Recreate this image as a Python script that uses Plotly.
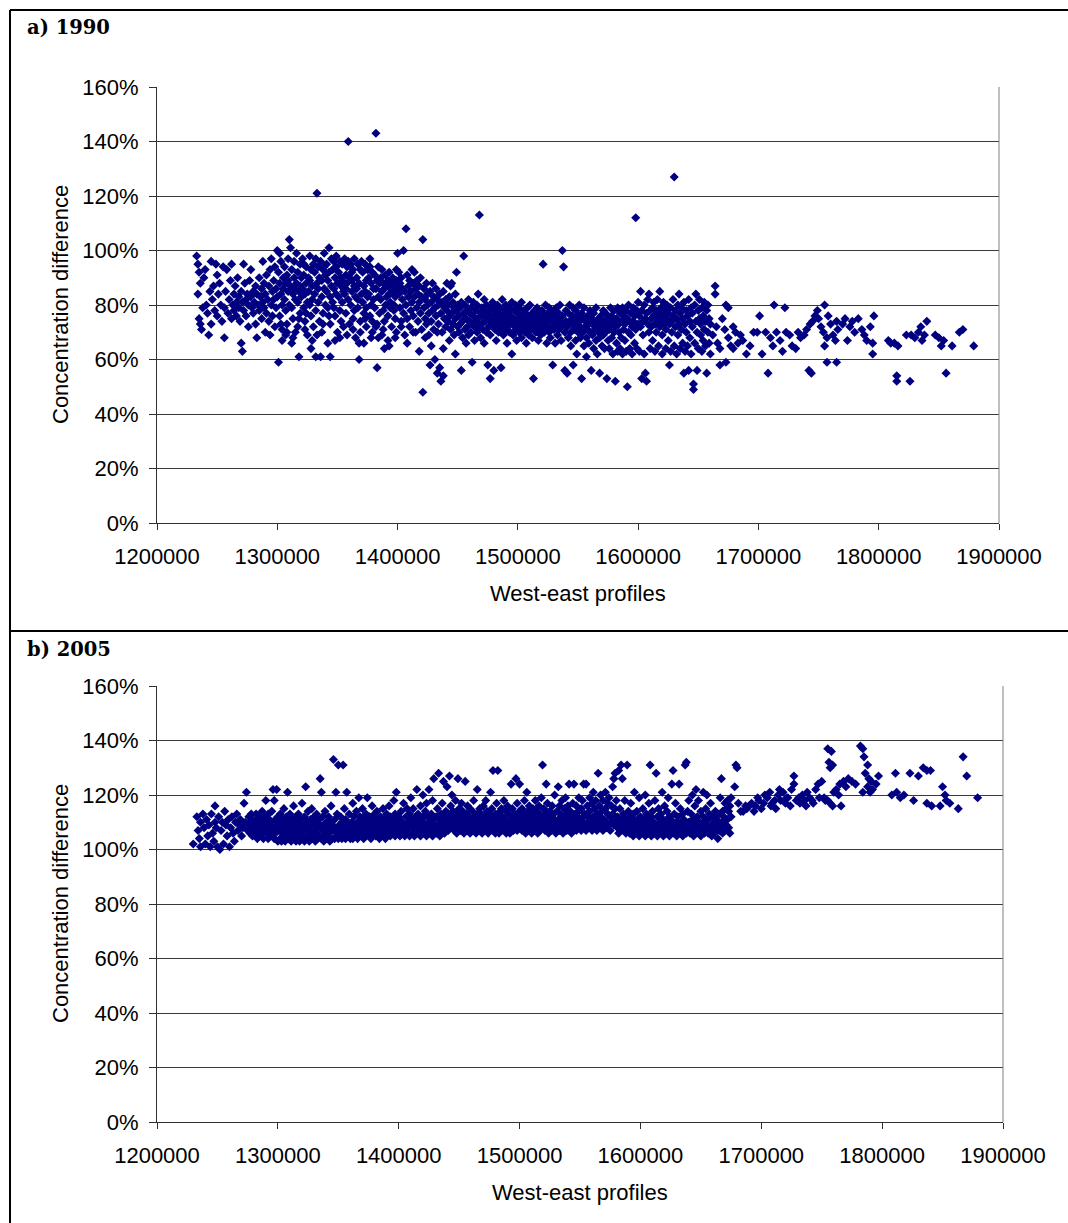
import plotly.graph_objects as go

# Concentration difference along west-east profiles.
# Each entry: (profile easting in km, concentration difference in %)

# ---------------- 1990 ----------------
a_west = [
    (1233, 98), (1234, 84), (1234, 95), (1235, 92), (1235, 75), (1236, 73), (1236, 88), (1237, 71),
    (1238, 79), (1239, 90), (1240, 93), (1241, 80), (1242, 77), (1243, 69), (1244, 85), (1245, 96),
    (1245, 73), (1246, 82), (1247, 87), (1248, 78), (1249, 95), (1250, 91), (1250, 76), (1251, 84),
    (1252, 88), (1253, 80), (1254, 74), (1255, 94), (1256, 79), (1256, 68), (1257, 85), (1258, 93),
    (1259, 77), (1260, 82), (1261, 89), (1262, 75), (1262, 95),
    (1263, 80), (1264, 84), (1264, 78), (1265, 87), (1266, 81), (1266, 76), (1267, 90), (1268, 83),
    (1268, 79), (1269, 74), (1270, 66), (1270, 85), (1271, 63), (1271, 81), (1272, 95), (1272, 78),
    (1273, 88), (1274, 82), (1274, 76), (1275, 84), (1276, 80), (1276, 72), (1277, 89), (1278, 83),
    (1278, 93), (1279, 79), (1280, 85), (1280, 77), (1281, 81), (1282, 87), (1282, 73), (1283, 68),
    (1283, 84), (1284, 80), (1285, 90), (1285, 78), (1286, 83), (1287, 86), (1287, 75), (1288, 96),
    (1288, 81), (1289, 88), (1289, 79), (1290, 70), (1290, 84), (1291, 91), (1291, 77), (1292, 82),
    (1293, 87), (1293, 74), (1294, 69), (1294, 93), (1295, 80), (1295, 97), (1296, 85), (1296, 76),
    (1297, 89), (1297, 82), (1298, 72), (1298, 94), (1299, 86), (1299, 79), (1300, 100), (1300, 83),
]

a_core = [
    (1301, 92), (1301, 59), (1302, 88), (1302, 76), (1303, 96), (1303, 84), (1304, 80), (1304, 71), (1305, 90), (1305, 86), (1302, 99), (1304, 67),
    (1306, 94), (1306, 82), (1307, 88), (1307, 78), (1308, 91), (1308, 73), (1309, 85), (1309, 97), (1310, 104), (1310, 80), (1307, 69), (1309, 89),
    (1311, 101), (1311, 87), (1312, 93), (1312, 79), (1313, 84), (1313, 75), (1314, 90), (1314, 96), (1315, 82), (1315, 70), (1312, 66), (1314, 86),
    (1316, 99), (1316, 88), (1317, 92), (1317, 81), (1318, 61), (1318, 85), (1319, 95), (1319, 77), (1320, 90), (1320, 83), (1317, 72), (1319, 87),
    (1321, 97), (1321, 86), (1322, 91), (1322, 79), (1323, 84), (1323, 74), (1324, 94), (1324, 88), (1325, 81), (1325, 69), (1322, 95), (1324, 77),
    (1326, 90), (1326, 85), (1327, 98), (1327, 80), (1328, 93), (1328, 76), (1329, 87), (1329, 82), (1330, 95), (1330, 72), (1327, 89), (1329, 67),
    (1331, 92), (1331, 84), (1332, 97), (1332, 78), (1333, 88), (1333, 121), (1334, 94), (1334, 81), (1335, 90), (1335, 74), (1332, 61), (1334, 86),
    (1336, 96), (1336, 61), (1337, 89), (1337, 83), (1338, 93), (1338, 77), (1339, 86), (1339, 99), (1340, 91), (1340, 80), (1337, 70), (1339, 94),
    (1341, 95), (1341, 85), (1342, 89), (1342, 79), (1343, 101), (1343, 92), (1344, 83), (1344, 73), (1345, 97), (1345, 87), (1342, 66), (1344, 61),
    (1346, 93), (1346, 81), (1347, 96), (1347, 86), (1348, 90), (1348, 76), (1349, 84), (1349, 94), (1350, 88), (1350, 70), (1347, 79), (1349, 98),
    (1351, 92), (1351, 83), (1352, 96), (1352, 78), (1353, 87), (1353, 90), (1354, 81), (1354, 95), (1355, 85), (1355, 72), (1352, 68), (1354, 89),
    (1356, 97), (1356, 84), (1357, 91), (1357, 77), (1358, 88), (1358, 94), (1359, 140), (1359, 82), (1360, 90), (1360, 73), (1357, 86), (1359, 96),
    (1361, 95), (1361, 80), (1362, 89), (1362, 85), (1363, 93), (1363, 75), (1364, 87), (1364, 97), (1365, 83), (1365, 68), (1362, 92), (1364, 78),
    (1366, 90), (1366, 86), (1367, 95), (1367, 79), (1368, 60), (1368, 88), (1369, 93), (1369, 74), (1370, 84), (1370, 96), (1367, 82), (1369, 70),
    (1371, 92), (1371, 81), (1372, 87), (1372, 77), (1373, 95), (1373, 85), (1374, 89), (1374, 72), (1375, 83), (1375, 93), (1372, 66), (1374, 79),
    (1376, 90), (1376, 84), (1377, 94), (1377, 76), (1378, 88), (1378, 80), (1379, 92), (1379, 70), (1380, 86), (1380, 82), (1377, 97), (1379, 74),
    (1381, 91), (1381, 79), (1382, 143), (1382, 86), (1383, 57), (1383, 89), (1384, 83), (1384, 94), (1385, 77), (1385, 88), (1382, 72), (1384, 68),
    (1386, 90), (1386, 82), (1387, 85), (1387, 93), (1388, 78), (1388, 88), (1389, 74), (1389, 86), (1390, 91), (1390, 80), (1387, 69), (1389, 64),
    (1391, 87), (1391, 83), (1392, 89), (1392, 76), (1393, 84), (1393, 92), (1394, 79), (1394, 86), (1395, 72), (1395, 88), (1392, 67), (1394, 81),
    (1396, 85), (1396, 90), (1397, 80), (1397, 87), (1398, 75), (1398, 83), (1399, 89), (1399, 70), (1400, 86), (1400, 99), (1397, 78), (1399, 93),
]

a_core_low = [
    (1303, 73), (1308, 70), (1313, 68), (1318, 75), (1323, 71), (1328, 64), (1333, 69), (1338, 73), (1343, 76), (1348, 67),
    (1353, 74), (1358, 69), (1363, 71), (1368, 66), (1373, 75), (1378, 68), (1383, 73), (1388, 71), (1393, 65), (1398, 68),
    (1403, 72), (1408, 66), (1413, 70), (1418, 63), (1423, 68), (1428, 65), (1433, 70), (1438, 64), (1443, 67), (1448, 62),
]

a_mid = [
    (1401, 92), (1401, 84), (1402, 79), (1402, 88), (1403, 74), (1403, 90), (1404, 82), (1404, 86), (1405, 100), (1405, 77),
    (1406, 85), (1406, 69), (1407, 108), (1407, 80), (1408, 91), (1408, 75), (1409, 87), (1409, 83), (1410, 72), (1410, 89),
    (1411, 78), (1411, 85), (1412, 81), (1412, 93), (1413, 76), (1413, 88), (1414, 92), (1414, 83), (1415, 70), (1415, 86),
    (1416, 79), (1416, 89), (1417, 84), (1417, 74), (1418, 81), (1418, 87), (1419, 77), (1419, 90), (1420, 83), (1420, 71),
    (1421, 104), (1421, 48), (1422, 86), (1422, 79), (1423, 75), (1423, 82), (1424, 88), (1424, 73), (1425, 80), (1425, 84),
    (1426, 77), (1426, 69), (1427, 58), (1427, 85), (1428, 81), (1428, 74), (1429, 88), (1429, 78), (1430, 83), (1430, 71),
    (1431, 60), (1431, 79), (1432, 86), (1432, 76), (1433, 55), (1433, 82), (1434, 73), (1434, 80), (1435, 57), (1435, 84),
    (1436, 52), (1436, 77), (1437, 81), (1437, 70), (1438, 54), (1438, 85), (1439, 75), (1439, 79), (1440, 82), (1440, 72),
    (1441, 78), (1441, 88), (1442, 74), (1442, 80), (1443, 76), (1443, 83), (1444, 87), (1444, 71), (1445, 88), (1445, 77),
    (1446, 73), (1446, 81), (1447, 79), (1447, 69), (1448, 84), (1448, 75), (1449, 92), (1449, 78), (1450, 72), (1450, 80),
    (1451, 76), (1451, 70), (1452, 79), (1452, 73), (1453, 56), (1453, 81), (1454, 74), (1454, 68), (1455, 98), (1455, 77),
    (1456, 71), (1456, 80), (1457, 75), (1457, 66), (1458, 78), (1458, 72), (1459, 82), (1459, 69), (1460, 74), (1460, 77),
    (1461, 70), (1461, 79), (1462, 59), (1462, 73), (1463, 76), (1463, 81), (1464, 72), (1464, 67), (1465, 78), (1465, 74),
    (1466, 80), (1466, 70), (1467, 75), (1467, 84), (1468, 113), (1468, 72), (1469, 77), (1469, 68), (1470, 79), (1470, 73),
    (1471, 71), (1471, 76), (1472, 82), (1472, 66), (1473, 74), (1473, 78), (1474, 70), (1474, 80), (1475, 58), (1475, 75),
    (1476, 72), (1476, 77), (1477, 53), (1477, 69), (1478, 79), (1478, 74), (1479, 73), (1479, 81), (1480, 56), (1480, 76),
    (1481, 71), (1481, 78), (1482, 75), (1482, 67), (1483, 80), (1483, 73), (1484, 70), (1484, 77), (1485, 74), (1485, 79),
    (1486, 57), (1486, 72), (1487, 76), (1487, 82), (1488, 69), (1488, 74), (1489, 78), (1489, 71), (1490, 73), (1490, 80),
    (1491, 75), (1491, 66), (1492, 77), (1492, 72), (1493, 70), (1493, 79), (1494, 74), (1494, 76), (1495, 62), (1495, 81),
    (1496, 73), (1496, 69), (1497, 78), (1497, 75), (1498, 71), (1498, 80), (1499, 74), (1499, 67), (1500, 77), (1500, 72),
    (1501, 79), (1501, 70), (1502, 73), (1502, 76), (1503, 68), (1503, 81), (1504, 75), (1504, 71), (1505, 78), (1505, 73),
    (1506, 70), (1506, 77), (1507, 74), (1507, 66), (1508, 79), (1508, 72), (1509, 76), (1509, 69), (1510, 73), (1510, 80),
    (1511, 71), (1511, 75), (1512, 77), (1512, 68), (1513, 53), (1513, 74), (1514, 72), (1514, 78), (1515, 70), (1515, 76),
    (1516, 73), (1516, 79), (1517, 67), (1517, 75), (1518, 71), (1518, 77), (1519, 74), (1519, 69), (1520, 78), (1520, 72),
    (1521, 95), (1521, 75), (1522, 70), (1522, 76), (1523, 73), (1523, 80), (1524, 66), (1524, 72), (1525, 77), (1525, 74),
    (1526, 70), (1526, 79), (1527, 75), (1527, 68), (1528, 72), (1528, 77), (1529, 58), (1529, 74), (1530, 71), (1530, 78),
    (1531, 76), (1531, 66), (1532, 73), (1532, 79), (1533, 69), (1533, 75), (1534, 77), (1534, 71), (1535, 74), (1535, 80),
    (1536, 72), (1536, 67), (1537, 100), (1537, 76), (1538, 94), (1538, 73), (1539, 56), (1539, 70), (1540, 78), (1540, 74),
]

a_east_band = [
    (1541, 72), (1541, 55), (1542, 77), (1542, 68), (1543, 74), (1543, 80), (1544, 70), (1544, 65), (1545, 76), (1545, 73),
    (1546, 58), (1546, 79), (1547, 71), (1547, 75), (1548, 67), (1548, 78), (1549, 73), (1549, 62), (1550, 76), (1550, 70),
    (1551, 74), (1551, 80), (1552, 68), (1552, 72), (1553, 53), (1553, 77), (1554, 70), (1554, 75), (1555, 65), (1555, 79),
    (1556, 72), (1556, 74), (1557, 61), (1557, 68), (1558, 76), (1558, 71), (1559, 73), (1559, 66), (1560, 78), (1560, 70),
    (1561, 56), (1561, 75), (1562, 69), (1562, 73), (1563, 64), (1563, 77), (1564, 71), (1564, 74), (1565, 67), (1565, 79),
    (1566, 72), (1566, 62), (1567, 75), (1567, 70), (1568, 55), (1568, 68), (1569, 76), (1569, 73), (1570, 65), (1570, 71),
    (1571, 78), (1571, 69), (1572, 74), (1572, 64), (1573, 70), (1573, 77), (1574, 53), (1574, 72), (1575, 67), (1575, 75),
    (1576, 71), (1576, 64), (1577, 79), (1577, 73), (1578, 68), (1578, 76), (1579, 62), (1579, 74), (1580, 70), (1580, 78),
    (1581, 52), (1581, 72), (1582, 75), (1582, 66), (1583, 63), (1583, 79), (1584, 73), (1584, 70), (1585, 77), (1585, 64),
    (1586, 74), (1586, 68), (1587, 62), (1587, 79), (1588, 71), (1588, 76), (1589, 67), (1589, 73), (1590, 78), (1590, 63),
    (1591, 50), (1591, 75), (1592, 70), (1592, 80), (1593, 64), (1593, 74), (1594, 77), (1594, 69), (1595, 72), (1595, 62),
    (1596, 79), (1596, 74), (1597, 66), (1597, 76), (1598, 112), (1598, 71), (1599, 78), (1599, 64), (1600, 73), (1600, 81),
    (1601, 76), (1601, 63), (1602, 85), (1602, 72), (1603, 53), (1603, 78), (1604, 74), (1604, 69), (1605, 80), (1605, 62),
    (1606, 55), (1606, 75), (1607, 52), (1607, 77), (1608, 73), (1608, 82), (1609, 84), (1609, 70), (1610, 78), (1610, 64),
    (1611, 75), (1611, 72), (1612, 79), (1612, 67), (1613, 76), (1613, 81), (1614, 73), (1614, 63), (1615, 78), (1615, 70),
    (1616, 82), (1616, 75), (1617, 77), (1617, 65), (1618, 85), (1618, 72), (1619, 74), (1619, 79), (1620, 69), (1620, 62),
    (1621, 76), (1621, 81), (1622, 73), (1622, 78), (1623, 64), (1623, 71), (1624, 80), (1624, 75), (1625, 67), (1625, 77),
    (1626, 58), (1626, 73), (1627, 79), (1627, 63), (1628, 74), (1628, 70), (1629, 82), (1629, 76), (1630, 127), (1630, 65),
    (1631, 72), (1631, 78), (1632, 62), (1632, 75), (1633, 80), (1633, 69), (1634, 84), (1634, 73), (1635, 77), (1635, 64),
    (1636, 71), (1636, 79), (1637, 75), (1637, 66), (1638, 55), (1638, 81), (1639, 73), (1639, 63), (1640, 78), (1640, 70),
    (1641, 76), (1641, 65), (1642, 56), (1642, 82), (1643, 74), (1643, 68), (1644, 79), (1644, 62), (1645, 72), (1645, 77),
    (1646, 51), (1646, 49), (1647, 80), (1647, 66), (1648, 84), (1648, 74), (1649, 56), (1649, 70), (1650, 78), (1650, 64),
    (1651, 75), (1651, 82), (1652, 69), (1652, 73), (1653, 63), (1653, 79), (1654, 76), (1654, 67), (1655, 81), (1655, 71),
    (1656, 74), (1656, 65), (1657, 78), (1657, 55), (1658, 70), (1658, 80), (1659, 66), (1659, 75), (1660, 73), (1660, 62),
]

a_far_east = [
    (1662, 69), (1664, 87), (1664, 84), (1665, 72), (1666, 66), (1668, 64), (1668, 58), (1670, 75), (1672, 71), (1673, 80),
    (1673, 59), (1675, 68), (1675, 79), (1677, 65), (1679, 72), (1679, 64), (1681, 70), (1683, 66), (1685, 69), (1687, 67),
    (1690, 62), (1693, 65), (1696, 70), (1699, 70), (1701, 76), (1703, 62), (1706, 70), (1708, 55), (1710, 68), (1712, 65),
    (1713, 80), (1715, 70), (1718, 67), (1720, 63), (1722, 79), (1723, 70), (1726, 69), (1728, 65), (1731, 64), (1733, 70),
    (1735, 68), (1738, 69), (1740, 71), (1742, 56), (1743, 73), (1744, 55), (1745, 74), (1747, 76), (1749, 78), (1750, 75),
    (1752, 72), (1754, 70), (1755, 80), (1755, 65), (1757, 68), (1757, 59), (1758, 76), (1760, 73), (1762, 69), (1764, 67),
    (1765, 74), (1765, 59), (1766, 71), (1770, 73), (1772, 75), (1774, 67), (1776, 72), (1778, 74), (1780, 70), (1783, 75),
    (1786, 71), (1788, 69), (1790, 67), (1793, 72), (1795, 66), (1795, 62), (1796, 76), (1808, 67), (1810, 66), (1813, 66),
    (1815, 54), (1815, 52), (1816, 65), (1823, 69), (1826, 52), (1827, 69), (1830, 68), (1833, 70), (1835, 72), (1836, 67),
    (1838, 69), (1840, 74), (1847, 69), (1850, 68), (1852, 65), (1854, 67), (1856, 55), (1861, 65), (1867, 70), (1870, 71),
    (1879, 65),
]

# ---------------- 2005 ----------------
b_west = [
    (1230, 102), (1233, 112), (1234, 107), (1235, 104), (1236, 101), (1236, 110), (1238, 113), (1239, 108), (1240, 102),
    (1241, 111), (1242, 105), (1243, 109), (1244, 101), (1245, 113), (1246, 106), (1247, 103), (1248, 116), (1248, 110),
    (1249, 108), (1250, 101), (1251, 112), (1252, 100), (1253, 107), (1254, 110), (1255, 102), (1256, 114), (1257, 109),
    (1258, 105), (1259, 111), (1260, 101), (1261, 108), (1262, 112), (1263, 106), (1264, 103), (1265, 110), (1266, 113),
    (1267, 107), (1268, 109), (1269, 111), (1270, 105), (1271, 108), (1272, 117), (1273, 110), (1274, 121), (1275, 107),
]

b_core = [
    (1276, 109), (1276, 112), (1277, 106), (1277, 110), (1278, 108), (1278, 113), (1279, 105), (1279, 111), (1280, 107), (1280, 109),
    (1281, 110), (1281, 106), (1282, 113), (1282, 108), (1283, 104), (1283, 111), (1284, 109), (1284, 107), (1285, 112), (1285, 105),
    (1286, 108), (1286, 111), (1287, 106), (1287, 114), (1288, 109), (1288, 104), (1289, 112), (1289, 107), (1290, 110), (1290, 118),
    (1291, 106), (1291, 109), (1292, 113), (1292, 104), (1293, 108), (1293, 111), (1294, 105), (1294, 110), (1295, 107), (1295, 114),
    (1296, 122), (1296, 108), (1297, 118), (1297, 104), (1298, 111), (1298, 106), (1299, 122), (1299, 109), (1300, 103), (1300, 112),
    (1301, 107), (1301, 110), (1302, 104), (1302, 113), (1303, 108), (1303, 103), (1304, 111), (1304, 106), (1305, 109), (1305, 115),
    (1306, 103), (1306, 108), (1307, 112), (1307, 105), (1308, 121), (1308, 110), (1309, 104), (1309, 107), (1310, 113), (1310, 109),
    (1311, 103), (1311, 106), (1312, 111), (1312, 108), (1313, 104), (1313, 116), (1314, 109), (1314, 105), (1315, 112), (1315, 103),
    (1316, 107), (1316, 110), (1317, 104), (1317, 113), (1318, 108), (1318, 103), (1319, 111), (1319, 106), (1320, 109), (1320, 117),
    (1321, 104), (1321, 107), (1322, 112), (1322, 103), (1323, 123), (1323, 109), (1324, 105), (1324, 110), (1325, 108), (1325, 114),
    (1326, 103), (1326, 106), (1327, 111), (1327, 108), (1328, 104), (1328, 115), (1329, 109), (1329, 105), (1330, 112), (1330, 107),
    (1331, 103), (1331, 110), (1332, 106), (1332, 113), (1333, 104), (1333, 108), (1334, 111), (1334, 105), (1335, 126), (1335, 109),
    (1336, 121), (1336, 104), (1337, 107), (1337, 112), (1338, 103), (1338, 109), (1339, 106), (1339, 114), (1340, 110), (1340, 105),
    (1341, 104), (1341, 108), (1342, 112), (1342, 106), (1343, 103), (1343, 110), (1344, 107), (1344, 116), (1345, 109), (1345, 104),
    (1346, 133), (1346, 107), (1347, 111), (1347, 104), (1348, 121), (1348, 108), (1349, 106), (1349, 113), (1350, 131), (1350, 104),
    (1351, 109), (1351, 105), (1352, 112), (1352, 107), (1353, 104), (1353, 110), (1354, 131), (1354, 106), (1355, 115), (1355, 108),
    (1356, 104), (1356, 111), (1357, 107), (1357, 121), (1358, 105), (1358, 109), (1359, 113), (1359, 106), (1360, 108), (1360, 104),
    (1361, 110), (1361, 106), (1362, 117), (1362, 104), (1363, 108), (1363, 112), (1364, 105), (1364, 109), (1365, 107), (1365, 114),
    (1366, 104), (1366, 110), (1367, 106), (1367, 119), (1368, 108), (1368, 112), (1369, 105), (1369, 109), (1370, 107), (1370, 115),
    (1371, 104), (1371, 111), (1372, 108), (1372, 106), (1373, 113), (1373, 105), (1374, 110), (1374, 119), (1375, 107), (1375, 109),
    (1376, 105), (1376, 112), (1377, 108), (1377, 104), (1378, 110), (1378, 116), (1379, 106), (1379, 109), (1380, 113), (1380, 107),
    (1381, 105), (1381, 111), (1382, 108), (1382, 114), (1383, 106), (1383, 110), (1384, 104), (1384, 109), (1385, 112), (1385, 107),
    (1386, 105), (1386, 110), (1387, 108), (1387, 115), (1388, 106), (1388, 111), (1389, 104), (1389, 109), (1390, 113), (1390, 107),
    (1391, 106), (1391, 110), (1392, 108), (1392, 116), (1393, 105), (1393, 112), (1394, 107), (1394, 109), (1395, 111), (1395, 106),
    (1396, 118), (1396, 108), (1397, 105), (1397, 113), (1398, 121), (1398, 110), (1399, 107), (1399, 106), (1400, 112), (1400, 109),
    (1401, 105), (1401, 111), (1402, 108), (1402, 114), (1403, 106), (1403, 110), (1404, 107), (1404, 117), (1405, 109), (1405, 105),
    (1406, 112), (1406, 107), (1407, 106), (1407, 115), (1408, 110), (1408, 108), (1409, 105), (1409, 113), (1410, 109), (1410, 119),
    (1411, 106), (1411, 111), (1412, 108), (1412, 115), (1413, 105), (1413, 110), (1414, 107), (1414, 112), (1415, 122), (1415, 109),
    (1416, 106), (1416, 113), (1417, 108), (1417, 111), (1418, 105), (1418, 116), (1419, 109), (1419, 107), (1420, 120), (1420, 112),
    (1421, 106), (1421, 110), (1422, 108), (1422, 114), (1423, 105), (1423, 117), (1424, 109), (1424, 112), (1425, 107), (1425, 122),
    (1426, 110), (1426, 106), (1427, 113), (1427, 108), (1428, 105), (1428, 118), (1429, 126), (1429, 111), (1430, 107), (1430, 109),
    (1431, 112), (1431, 106), (1432, 115), (1432, 109), (1433, 128), (1433, 107), (1434, 111), (1434, 105), (1435, 113), (1435, 108),
    (1436, 110), (1436, 117), (1437, 125), (1437, 107), (1438, 112), (1438, 106), (1439, 114), (1439, 109), (1440, 123), (1440, 111),
]

b_mid = [
    (1441, 107), (1441, 113), (1442, 127), (1442, 110), (1443, 116), (1443, 108), (1444, 112), (1444, 120), (1445, 109), (1445, 114),
    (1446, 107), (1446, 111), (1447, 118), (1447, 109), (1448, 113), (1448, 106), (1449, 126), (1449, 110), (1450, 115), (1450, 108),
    (1451, 112), (1451, 107), (1452, 117), (1452, 110), (1453, 108), (1453, 114), (1454, 111), (1454, 106), (1455, 125), (1455, 109),
    (1456, 113), (1456, 107), (1457, 110), (1457, 116), (1458, 108), (1458, 112), (1459, 106), (1459, 115), (1460, 109), (1460, 111),
    (1461, 107), (1461, 114), (1462, 110), (1462, 118), (1463, 108), (1463, 112), (1464, 106), (1464, 110), (1465, 122), (1465, 113),
    (1466, 109), (1466, 107), (1467, 115), (1467, 111), (1468, 108), (1468, 113), (1469, 106), (1469, 110), (1470, 116), (1470, 109),
    (1471, 107), (1471, 112), (1472, 110), (1472, 118), (1473, 108), (1473, 114), (1474, 106), (1474, 111), (1475, 109), (1475, 113),
    (1476, 121), (1476, 108), (1477, 110), (1477, 115), (1478, 129), (1478, 107), (1479, 112), (1479, 109), (1480, 113), (1480, 106),
    (1481, 110), (1481, 117), (1482, 129), (1482, 108), (1483, 112), (1483, 106), (1484, 114), (1484, 110), (1485, 107), (1485, 115),
    (1486, 109), (1486, 112), (1487, 107), (1487, 118), (1488, 111), (1488, 108), (1489, 114), (1489, 106), (1490, 110), (1490, 116),
    (1491, 108), (1491, 113), (1492, 110), (1492, 106), (1493, 124), (1493, 112), (1494, 109), (1494, 115), (1495, 107), (1495, 111),
    (1496, 113), (1496, 108), (1497, 126), (1497, 110), (1498, 117), (1498, 107), (1499, 112), (1499, 109), (1500, 124), (1500, 114),
    (1501, 108), (1501, 111), (1502, 115), (1502, 107), (1503, 110), (1503, 113), (1504, 108), (1504, 118), (1505, 112), (1505, 106),
    (1506, 121), (1506, 109), (1507, 114), (1507, 107), (1508, 111), (1508, 116), (1509, 108), (1509, 113), (1510, 110), (1510, 106),
    (1511, 115), (1511, 109), (1512, 112), (1512, 107), (1513, 118), (1513, 110), (1514, 108), (1514, 114), (1515, 111), (1515, 106),
    (1516, 109), (1516, 116), (1517, 113), (1517, 107), (1518, 110), (1518, 119), (1519, 131), (1519, 108), (1520, 112), (1520, 115),
    (1521, 107), (1521, 110), (1522, 124), (1522, 113), (1523, 108), (1523, 117), (1524, 111), (1524, 106), (1525, 114), (1525, 109),
    (1526, 112), (1526, 107), (1527, 116), (1527, 110), (1528, 108), (1528, 113), (1529, 111), (1529, 120), (1530, 109), (1530, 106),
    (1531, 114), (1531, 108), (1532, 123), (1532, 111), (1533, 107), (1533, 116), (1534, 110), (1534, 113), (1535, 108), (1535, 118),
    (1536, 112), (1536, 106), (1537, 115), (1537, 109), (1538, 111), (1538, 119), (1539, 107), (1539, 113), (1540, 110), (1540, 116),
    (1541, 124), (1541, 108), (1542, 112), (1542, 114), (1543, 109), (1543, 106), (1544, 117), (1544, 111), (1545, 124), (1545, 108),
    (1546, 113), (1546, 110), (1547, 107), (1547, 116), (1548, 112), (1548, 109), (1549, 119), (1549, 114), (1550, 108), (1550, 111),
    (1551, 115), (1551, 107), (1552, 110), (1552, 118), (1553, 124), (1553, 112), (1554, 109), (1554, 113), (1555, 124), (1555, 107),
    (1556, 116), (1556, 110), (1557, 112), (1557, 108), (1558, 119), (1558, 114), (1559, 109), (1559, 111), (1560, 117), (1560, 107),
    (1561, 121), (1561, 112), (1562, 109), (1562, 115), (1563, 110), (1563, 118), (1564, 107), (1564, 113), (1565, 128), (1565, 111),
    (1566, 116), (1566, 108), (1567, 120), (1567, 112), (1568, 110), (1568, 114), (1569, 107), (1569, 118), (1570, 111), (1570, 109),
    (1571, 115), (1571, 121), (1572, 110), (1572, 108), (1573, 117), (1573, 113), (1574, 109), (1574, 119), (1575, 112), (1575, 107),
    (1576, 116), (1576, 110), (1577, 123), (1577, 113), (1578, 126), (1578, 109), (1579, 128), (1579, 115), (1580, 111), (1580, 118),
]

b_east_band = [
    (1581, 108), (1581, 112), (1582, 129), (1582, 106), (1583, 110), (1583, 115), (1584, 131), (1584, 108), (1585, 126), (1585, 111),
    (1586, 107), (1586, 113), (1587, 109), (1587, 118), (1588, 106), (1588, 111), (1589, 131), (1589, 108), (1590, 114), (1590, 110),
    (1591, 106), (1591, 112), (1592, 109), (1592, 117), (1593, 107), (1593, 110), (1594, 113), (1594, 105), (1595, 111), (1595, 121),
    (1596, 108), (1596, 106), (1597, 114), (1597, 109), (1598, 111), (1598, 107), (1599, 119), (1599, 105), (1600, 110), (1600, 112),
    (1601, 108), (1601, 106), (1602, 115), (1602, 109), (1603, 111), (1603, 107), (1604, 120), (1604, 105), (1605, 113), (1605, 109),
    (1606, 107), (1606, 111), (1607, 106), (1607, 117), (1608, 131), (1608, 109), (1609, 112), (1609, 105), (1610, 108), (1610, 114),
    (1611, 110), (1611, 106), (1612, 118), (1612, 107), (1613, 128), (1613, 109), (1614, 105), (1614, 112), (1615, 108), (1615, 115),
    (1616, 106), (1616, 110), (1617, 113), (1617, 107), (1618, 109), (1618, 121), (1619, 105), (1619, 111), (1620, 108), (1620, 116),
    (1621, 106), (1621, 110), (1622, 114), (1622, 108), (1623, 107), (1623, 119), (1624, 105), (1624, 112), (1625, 109), (1625, 111),
    (1626, 124), (1626, 107), (1627, 129), (1627, 110), (1628, 106), (1628, 113), (1629, 108), (1629, 117), (1630, 105), (1630, 110),
    (1631, 109), (1631, 112), (1632, 124), (1632, 107), (1633, 106), (1633, 115), (1634, 110), (1634, 108), (1635, 113), (1635, 105),
    (1636, 107), (1636, 111), (1637, 131), (1637, 109), (1638, 132), (1638, 106), (1639, 114), (1639, 108), (1640, 118), (1640, 110),
    (1641, 106), (1641, 109), (1642, 113), (1642, 107), (1643, 111), (1643, 120), (1644, 105), (1644, 108), (1645, 116), (1645, 110),
    (1646, 122), (1646, 107), (1647, 109), (1647, 112), (1648, 106), (1648, 118), (1649, 108), (1649, 110), (1650, 114), (1650, 105),
    (1651, 109), (1651, 107), (1652, 112), (1652, 121), (1653, 106), (1653, 110), (1654, 108), (1654, 115), (1655, 120), (1655, 109),
    (1656, 106), (1656, 111), (1657, 108), (1657, 113), (1658, 107), (1658, 117), (1659, 109), (1659, 105), (1660, 112), (1660, 108),
    (1661, 110), (1661, 106), (1662, 114), (1662, 108), (1663, 107), (1663, 111), (1664, 104), (1664, 109), (1665, 113), (1665, 107),
    (1666, 119), (1666, 108), (1667, 126), (1667, 110), (1668, 106), (1668, 114), (1669, 109), (1669, 112), (1670, 107), (1670, 117),
    (1671, 115), (1671, 109), (1672, 118), (1672, 111), (1673, 108), (1673, 114), (1674, 106), (1674, 116), (1675, 112), (1675, 119),
]

b_far_east = [
    (1678, 123), (1679, 131), (1680, 130), (1681, 117), (1683, 114), (1685, 114), (1687, 116), (1688, 115), (1690, 116), (1692, 117),
    (1694, 114), (1695, 116), (1697, 119), (1698, 118), (1700, 115), (1702, 117), (1703, 120), (1705, 119), (1707, 121), (1708, 116),
    (1709, 117), (1711, 118), (1712, 115), (1714, 120), (1715, 122), (1716, 118), (1718, 121), (1720, 117), (1721, 119), (1722, 119),
    (1724, 116), (1725, 122), (1727, 124), (1727, 127), (1729, 118), (1731, 119), (1732, 117), (1734, 120), (1736, 118), (1737, 116),
    (1738, 121), (1740, 119), (1742, 118), (1743, 117), (1745, 122), (1747, 124), (1748, 119), (1750, 125), (1752, 119), (1753, 118),
    (1755, 137), (1755, 118), (1756, 132), (1757, 130), (1757, 117), (1758, 136), (1759, 131), (1759, 116), (1760, 121), (1762, 122),
    (1764, 120), (1765, 124), (1766, 116), (1768, 125), (1770, 123), (1772, 126), (1775, 125), (1778, 124), (1782, 138), (1784, 137),
    (1785, 134), (1784, 121), (1786, 128), (1788, 123), (1788, 131), (1789, 126), (1790, 121), (1791, 125), (1792, 122), (1795, 124),
    (1797, 127), (1808, 120), (1811, 128), (1812, 121), (1815, 119), (1818, 120), (1823, 128), (1826, 118), (1830, 127), (1834, 130),
    (1837, 129), (1837, 117), (1840, 129), (1841, 116), (1848, 116), (1850, 123), (1852, 120), (1853, 118), (1856, 117), (1863, 115),
    (1867, 134), (1870, 127), (1879, 119),
]

x_ticks = [1200000, 1300000, 1400000, 1500000, 1600000, 1700000, 1800000, 1900000]
x_tick_labels = ["1200000", "1300000", "1400000", "1500000", "1600000", "1700000", "1800000", "1900000"]
y_ticks = [0, 20, 40, 60, 80, 100, 120, 140, 160]
y_tick_labels = ["0%", "20%", "40%", "60%", "80%", "100%", "120%", "140%", "160%"]
panel_titles = ["a) 1990", "b) 2005"]
x_title = "West-east profiles"
y_title = "Concentration difference"


def unpack(*groups):
    xs, ys = [], []
    for group in groups:
        for x_km, pct in group:
            xs.append(x_km * 1000)
            ys.append(pct)
    return xs, ys


xa, ya = unpack(a_west, a_core, a_core_low, a_mid, a_east_band, a_far_east)
xb, yb = unpack(b_west, b_core, b_mid, b_east_band, b_far_east)

W, H = 1068, 1223


def px(x):
    return x / W


def py(y):
    return 1 - y / H


NAVY = "#000080"
FONT = "Liberation Sans, Arial, sans-serif"
marker = dict(symbol="diamond", size=7, color=NAVY, line=dict(width=0))

fig = go.Figure()
fig.add_trace(go.Scatter(x=xa, y=ya, mode="markers", marker=marker, xaxis="x", yaxis="y",
                         showlegend=False, hoverinfo="x+y"))
fig.add_trace(go.Scatter(x=xb, y=yb, mode="markers", marker=marker, xaxis="x2", yaxis="y2",
                         showlegend=False, hoverinfo="x+y"))

# plot-area rectangles in pixels: (left, right, top, bottom)
panels = [(157, 999, 87, 523), (157, 1003, 686, 1122)]

common_x = dict(range=[1200000, 1900000], tickmode="array", tickvals=x_ticks, ticktext=x_tick_labels,
                showgrid=False, zeroline=False, showline=True, linecolor="#303030", linewidth=1,
                ticks="outside", ticklen=6, tickcolor="#303030", tickwidth=1, automargin=False,
                tickfont=dict(family=FONT, size=22, color="#000"), ticklabelstandoff=8)
common_y = dict(range=[0, 160], tickmode="array", tickvals=y_ticks, ticktext=y_tick_labels,
                showgrid=True, gridcolor="#3a3a3a", gridwidth=1, zeroline=False,
                showline=True, linecolor="#303030", linewidth=1, automargin=False,
                ticks="outside", ticklen=7, tickcolor="#303030", tickwidth=1,
                tickfont=dict(family=FONT, size=22, color="#000"), ticklabelstandoff=6)

(l1, r1, t1, b1), (l2, r2, t2, b2) = panels
fig.update_layout(
    template="none",
    width=W, height=H, autosize=False,
    margin=dict(l=0, r=0, t=0, b=0, pad=0, autoexpand=False),
    paper_bgcolor="white", plot_bgcolor="white",
    xaxis=dict(common_x, domain=[px(l1), px(r1)], anchor="y"),
    yaxis=dict(common_y, domain=[py(b1), py(t1)], anchor="x"),
    xaxis2=dict(common_x, domain=[px(l2), px(r2)], anchor="y2"),
    yaxis2=dict(common_y, domain=[py(b2), py(t2)], anchor="x2"),
)

shapes = []
# frame lines around the two panels
for x0, y0, x1, y1 in [(10, 10, 1068, 10), (10, 10, 10, 1223), (10, 631, 1068, 631)]:
    shapes.append(dict(type="line", xref="paper", yref="paper",
                       x0=px(x0), y0=py(y0), x1=px(x1), y1=py(y1),
                       line=dict(color="black", width=2)))
# right edge of each plot area
for xr, yr in [("x", "y"), ("x2", "y2")]:
    shapes.append(dict(type="line", xref=f"{xr} domain", yref=f"{yr} domain",
                       x0=1, x1=1, y0=0, y1=1, line=dict(color="#808080", width=1)))
fig.update_layout(shapes=shapes)

annotations = []
for (l, r, t, b), title, top in zip(panels, panel_titles, [28, 649]):
    annotations.append(dict(text=f"<b>{title}</b>", xref="paper", yref="paper",
                            x=px(25), y=py(top), xanchor="left", yanchor="middle",
                            showarrow=False,
                            font=dict(family="DejaVu Serif, serif", size=19.5, color="#000")))
    annotations.append(dict(text=x_title, xref="paper", yref="paper",
                            x=px((l + r) / 2), y=py(b + 70), xanchor="center", yanchor="middle",
                            showarrow=False, font=dict(family=FONT, size=22, color="#000")))
    annotations.append(dict(text=y_title, xref="paper", yref="paper", textangle=-90,
                            x=px(60), y=py((t + b) / 2), xanchor="center", yanchor="middle",
                            showarrow=False, font=dict(family=FONT, size=22, color="#000")))
fig.update_layout(annotations=annotations)

fig.write_html("out.html")
